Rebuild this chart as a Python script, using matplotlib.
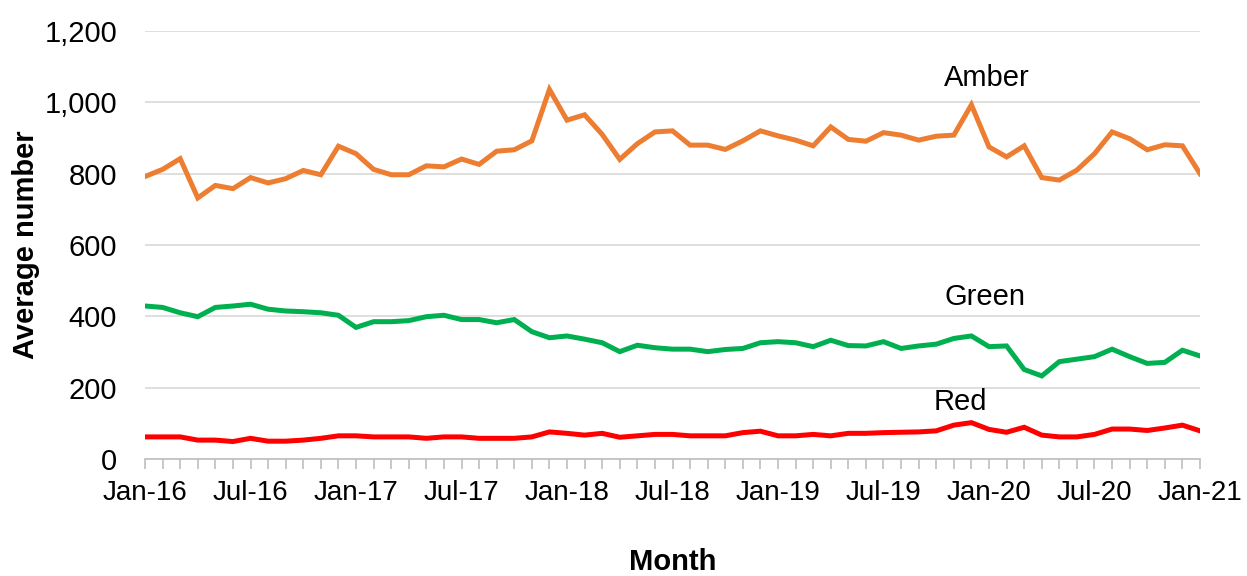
import matplotlib.pyplot as plt
from matplotlib.ticker import FuncFormatter, MultipleLocator

plt.rcParams['font.family'] = ['Liberation Sans', 'DejaVu Sans']

# monthly values, Jan-16 .. Jan-21
amber = [792, 812, 842, 732, 767, 758, 789, 774, 786, 809, 797, 877, 856, 812, 797, 797,
         822, 819, 841, 826, 863, 867, 892, 1036, 950, 965, 910, 840, 884, 917, 920, 880,
         880, 868, 892, 920, 906, 894, 878, 931, 896, 891, 915, 908, 894, 905, 908, 993,
         875, 847, 878, 789, 782, 810, 856, 917, 898, 867, 881, 878, 800]
green = [429, 425, 410, 399, 425, 429, 434, 420, 415, 413, 410, 403, 369, 385, 385, 388,
         399, 403, 391, 391, 382, 391, 357, 340, 345, 336, 326, 301, 319, 312, 308, 308,
         301, 307, 310, 326, 329, 326, 315, 333, 318, 317, 329, 310, 317, 322, 338, 345,
         315, 317, 251, 233, 273, 280, 287, 308, 287, 268, 271, 305, 289]
red = [62, 62, 62, 53, 53, 49, 58, 50, 50, 53, 58, 65, 65, 62, 62, 62,
       58, 62, 62, 58, 58, 58, 62, 76, 72, 67, 72, 61, 65, 69, 69, 65,
       65, 65, 74, 78, 65, 65, 69, 65, 72, 72, 74, 75, 76, 79, 95, 102,
       83, 75, 89, 67, 62, 62, 69, 84, 84, 80, 87, 95, 79]

month_names = ['Jan', 'Jul']
years = ['16', '17', '18', '19', '20', '21']
tick_labels = [f'{m}-{y}' for y in years for m in month_names][:-1]

fig = plt.figure(figsize=(12.47, 5.76), dpi=100)
ax = fig.add_axes([0.1163, 0.2031, 0.8460, 0.7431])

x = list(range(len(amber)))
lw = 3.6
ax.plot(x, amber, color='#ED7D31', lw=lw, solid_joinstyle='miter')
ax.plot(x, green, color='#00B050', lw=lw, solid_joinstyle='miter')
ax.plot(x, red, color='#FF0000', lw=lw, solid_joinstyle='miter')

ax.text(47.9, 1067, 'Amber', fontsize=21, ha='center', va='center')
ax.text(47.8, 454, 'Green', fontsize=21, ha='center', va='center')
ax.text(46.4, 160, 'Red', fontsize=21, ha='center', va='center')

ax.set_xlim(0, 60)
ax.set_ylim(0, 1200)
ax.set_xticks(range(0, 61, 6))
ax.set_xticklabels(tick_labels)
ax.xaxis.set_minor_locator(MultipleLocator(1))
ax.yaxis.set_major_locator(MultipleLocator(200))
ax.yaxis.set_major_formatter(FuncFormatter(lambda v, p: f'{int(v):,}'))

ax.grid(axis='y', color='#d9d9d9', lw=1.2)
ax.set_axisbelow(True)
for s in ['top', 'right', 'left']:
    ax.spines[s].set_visible(False)
ax.spines['bottom'].set_color('#bfbfbf')
ax.spines['bottom'].set_linewidth(1.2)

ax.tick_params(axis='y', length=0, labelsize=21, pad=20)
ax.tick_params(axis='x', which='both', length=7, color='#bfbfbf', width=1.2, labelsize=20, pad=8)

ax.set_ylabel('Average number', fontsize=21, fontweight='bold', labelpad=3)
ax.set_xlabel('Month', fontsize=21, fontweight='bold', labelpad=30)

fig.savefig('out.png', dpi=100)
